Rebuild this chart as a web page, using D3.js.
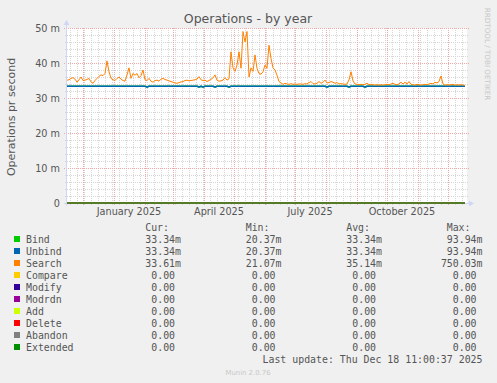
<!DOCTYPE html>
<html>
<head>
<meta charset="utf-8">
<script src="https://cdn.jsdelivr.net/npm/d3@7"></script>
<style>
  body { margin: 0; background: #f0f0f0; }
  svg { display: block; font-family: "DejaVu Sans", sans-serif; }
  .mono { font-family: "DejaVu Sans Mono", monospace; font-size: 9.9px; fill: #555; }
</style>
</head>
<body>
<svg id="chart" width="497" height="383"></svg>
<script>
// samples every 2 days, first one on 15 Nov 2024
var startDay = new Date(Date.UTC(2024, 10, 15))
var endDay = new Date(Date.UTC(2025, 11, 20))

// Search, in milli-ops per second
var search = [
  35.1,35.2,35.6,35.8,35.4,34.5,35.2,36.0,35.0,35.1,35.3,35.6,34.6,34.2,35.0,35.6,36.2,36.6,36.4,37.0,
  40.6,37.5,35.6,35.2,35.0,35.6,36.0,35.4,35.0,34.8,36.6,38.6,35.6,37.0,36.5,37.0,35.8,36.4,38.0,35.2,
  35.0,35.6,34.8,34.5,35.0,35.1,34.8,35.4,35.6,35.3,35.1,34.9,34.7,34.5,34.3,34.2,34.4,34.6,34.7,35.0,
  35.1,34.9,35.0,35.1,35.2,35.4,36.1,35.2,35.0,35.1,34.7,35.0,35.3,35.8,36.6,35.1,34.8,34.9,35.1,35.8,
  35.1,35.5,43.2,38.6,37.6,39.4,43.2,38.5,49.0,46.0,49.0,36.0,38.6,37.6,42.3,38.5,37.0,36.8,37.5,39.4,
  38.5,45.1,41.3,38.6,38.0,36.5,34.7,34.3,33.9,34.2,34.0,33.9,34.1,33.9,34.0,33.9,34.0,34.0,33.9,34.1,
  34.0,34.4,34.7,34.1,34.0,34.2,34.7,34.2,34.5,35.1,34.3,34.4,34.7,34.5,34.2,34.4,34.0,34.1,34.0,33.9,
  34.0,35.2,37.5,34.9,34.0,33.9,33.8,33.9,33.8,33.9,34.2,33.8,33.9,33.8,33.7,33.8,33.7,33.8,33.7,33.8,
  33.9,33.8,34.0,34.2,33.9,33.8,34.0,34.5,34.0,34.5,34.0,34.7,33.9,33.8,33.7,33.9,33.8,33.7,33.8,33.9,
  33.8,34.0,34.2,34.0,34.5,34.3,34.7,36.3,34.0,33.7,33.8,33.7,33.8,33.9,33.7,33.8,33.7,33.8,33.7,33.6
]

var bind = [
  33.34,33.34,33.34,33.34,33.34,33.34,33.34,33.34,33.34,33.34,33.34,33.34,33.34,33.34,33.34,33.34,33.34,33.34,33.34,33.34,
  33.34,33.34,33.34,33.34,33.34,33.34,33.34,33.34,33.34,33.34,33.34,33.34,33.34,33.34,33.34,33.34,33.34,33.34,33.34,33.34,
  33.15,33.34,33.34,33.34,33.34,33.34,33.34,33.34,33.34,33.34,33.34,33.34,33.34,33.34,33.34,33.34,33.34,33.34,33.34,33.34,
  33.34,33.34,33.34,33.34,33.34,33.34,33.15,33.34,33.15,33.34,33.34,33.34,33.34,33.34,33.15,33.34,33.34,33.34,33.34,33.34,
  33.34,33.15,33.34,33.34,33.34,33.34,33.34,33.34,33.34,33.34,33.34,33.34,33.34,33.34,33.34,33.34,33.34,33.34,33.34,33.34,
  33.34,33.34,33.34,33.34,33.34,33.34,33.34,33.34,33.34,33.34,33.34,33.34,33.34,33.34,33.34,33.34,33.34,33.34,33.34,33.34,
  33.34,33.34,33.34,33.34,33.34,33.34,33.34,33.34,33.34,33.34,33.15,33.34,33.34,33.34,33.34,33.34,33.34,33.34,33.34,33.34,
  33.34,33.15,33.34,33.34,33.34,33.34,33.34,33.34,33.34,33.15,33.34,33.34,33.34,33.34,33.34,33.34,33.34,33.34,33.34,33.34,
  33.34,33.34,33.34,33.34,33.34,33.34,33.34,33.34,33.34,33.34,33.34,33.34,33.34,33.34,33.34,33.34,33.34,33.34,33.34,33.34,
  33.34,33.34,33.34,33.34,33.34,33.34,33.34,33.34,33.34,33.34,33.34,33.34,33.34,33.34,33.34,33.34,33.34,33.34,33.34,33.34
]

var unbind = [
  33.34,33.34,33.34,33.34,33.34,33.34,33.34,33.34,33.34,33.34,33.34,33.34,33.34,33.34,33.34,33.34,33.34,33.34,33.34,33.34,
  33.34,33.34,33.34,33.34,33.34,33.34,33.34,33.34,33.34,33.34,33.34,33.34,33.34,33.34,33.34,33.34,33.34,33.34,33.34,33.34,
  33.15,33.34,33.34,33.34,33.34,33.34,33.34,33.34,33.34,33.34,33.34,33.34,33.34,33.34,33.34,33.34,33.34,33.34,33.34,33.34,
  33.34,33.34,33.34,33.34,33.34,33.34,33.15,33.34,33.15,33.34,33.34,33.34,33.34,33.34,33.15,33.34,33.34,33.34,33.34,33.34,
  33.34,33.15,33.34,33.34,33.34,33.34,33.34,33.34,33.34,33.34,33.34,33.34,33.34,33.34,33.34,33.34,33.34,33.34,33.34,33.34,
  33.34,33.34,33.34,33.34,33.34,33.34,33.34,33.34,33.34,33.34,33.34,33.34,33.34,33.34,33.34,33.34,33.34,33.34,33.34,33.34,
  33.34,33.34,33.34,33.34,33.34,33.34,33.34,33.34,33.34,33.34,33.15,33.34,33.34,33.34,33.34,33.34,33.34,33.34,33.34,33.34,
  33.34,33.15,33.34,33.34,33.34,33.34,33.34,33.34,33.34,33.15,33.34,33.34,33.34,33.34,33.34,33.34,33.34,33.34,33.34,33.34,
  33.34,33.34,33.34,33.34,33.34,33.34,33.34,33.34,33.34,33.34,33.34,33.34,33.34,33.34,33.34,33.34,33.34,33.34,33.34,33.34,
  33.34,33.34,33.34,33.34,33.34,33.34,33.34,33.34,33.34,33.34,33.34,33.34,33.34,33.34,33.34,33.34,33.34,33.34,33.34,33.34
]

// the other operations stayed at zero all year
var idleValue = 0

var names = ["Bind", "Unbind", "Search", "Compare", "Modify", "Modrdn", "Add", "Delete", "Abandon", "Extended"]
var colors = ["#00cc00", "#0066b3", "#ff8000", "#ffcc00", "#330099", "#990099", "#ccff00", "#ff0000", "#808080", "#008f00"]
var curVals = ["33.34m", "33.34m", "33.61m", "0.00", "0.00", "0.00", "0.00", "0.00", "0.00", "0.00"]
var minVals = ["20.37m", "20.37m", "21.07m", "0.00", "0.00", "0.00", "0.00", "0.00", "0.00", "0.00"]
var avgVals = ["33.34m", "33.34m", "35.14m", "0.00", "0.00", "0.00", "0.00", "0.00", "0.00", "0.00"]
var maxVals = ["93.94m", "93.94m", "750.03m", "0.00", "0.00", "0.00", "0.00", "0.00", "0.00", "0.00"]

var yTicks = [0, 10, 20, 30, 40, 50]
var yTickLabels = ["0", "10 m", "20 m", "30 m", "40 m", "50 m"]
var xTickLabels = ["January 2025", "April 2025", "July 2025", "October 2025"]

var svg = d3.select("#chart")
// plot box (window.top is taken, hence the prefix)
var plotLeft = 67, plotRight = 467, plotTop = 28, plotBottom = 203
var fontColor = "#555"
var minorGrid = "#d6d6d6", majorGrid = "#f0a8a8"

var x = d3.scaleUtc().domain([startDay, endDay]).range([plotLeft, plotRight])
var y = d3.scaleLinear().domain([0, 50]).range([plotBottom, plotTop])

var dates = search.map(function (d, i) { return d3.utcDay.offset(startDay, 2 * i) })

// background canvas
svg.append("rect").attr("x", plotLeft).attr("y", plotTop)
  .attr("width", plotRight - plotLeft).attr("height", plotBottom - plotTop).attr("fill", "#fff")

// grid
var grid = svg.append("g").attr("shape-rendering", "crispEdges")
d3.range(0, 51, 2).filter(function (v) { return v % 10 != 0 }).forEach(function (v) {
  grid.append("line").attr("x1", plotLeft - 2).attr("x2", plotRight + 1)
    .attr("y1", Math.round(y(v)) + 0.5).attr("y2", Math.round(y(v)) + 0.5)
    .attr("stroke", minorGrid).attr("stroke-dasharray", "1,1")
})
d3.utcMonday.range(startDay, endDay).forEach(function (d) {
  grid.append("line").attr("y1", plotTop).attr("y2", plotBottom + 2)
    .attr("x1", Math.round(x(d)) + 0.5).attr("x2", Math.round(x(d)) + 0.5)
    .attr("stroke", minorGrid).attr("stroke-dasharray", "1,1")
})
yTicks.slice(1).forEach(function (v) {
  grid.append("line").attr("x1", plotLeft - 3).attr("x2", plotRight + 3)
    .attr("y1", Math.round(y(v)) + 0.5).attr("y2", Math.round(y(v)) + 0.5)
    .attr("stroke", majorGrid).attr("stroke-dasharray", "1,1")
})
d3.utcMonth.range(startDay, endDay).forEach(function (d) {
  grid.append("line").attr("y1", plotTop).attr("y2", plotBottom + 3)
    .attr("x1", Math.round(x(d)) + 0.5).attr("x2", Math.round(x(d)) + 0.5)
    .attr("stroke", majorGrid).attr("stroke-dasharray", "1,1")
})

// axes with arrows
var axisColor = "#cfd6f8"
svg.append("line").attr("x1", plotLeft - 0.5).attr("x2", plotLeft - 0.5).attr("y1", plotBottom + 3).attr("y2", plotTop - 6)
  .attr("stroke", axisColor)
svg.append("line").attr("x1", plotLeft - 3).attr("x2", plotRight + 4).attr("y1", plotBottom + 0.5).attr("y2", plotBottom + 0.5)
  .attr("stroke", axisColor)
svg.append("path").attr("d", "M" + (plotLeft - 3.5) + "," + (plotTop - 3) + "L" + (plotLeft + 2.5) + "," + (plotTop - 3) + "L" + (plotLeft - 0.5) + "," + (plotTop - 8) + "Z")
  .attr("fill", axisColor)
svg.append("path").attr("d", "M" + (plotRight + 2) + "," + (plotBottom - 2.5) + "L" + (plotRight + 2) + "," + (plotBottom + 3.5) + "L" + (plotRight + 7) + "," + (plotBottom + 0.5) + "Z")
  .attr("fill", axisColor)

// y tick labels
svg.append("g").selectAll("text").data(yTicks).enter().append("text")
  .attr("x", 60).attr("y", function (d) { return y(d) + 3.5 })
  .attr("text-anchor", "end").attr("font-size", "9.7px").attr("fill", fontColor)
  .text(function (d, i) { return yTickLabels[i] })

// x labels sit in the middle of their month
var parseMonth = d3.utcParse("%B %Y")
svg.append("g").selectAll("text").data(xTickLabels).enter().append("text")
  .attr("x", function (d) { return x(d3.utcDay.offset(parseMonth(d), 15)) })
  .attr("y", 215)
  .attr("text-anchor", "middle").attr("font-size", "9.7px").attr("fill", fontColor)
  .text(function (d) { return d })

// lines
svg.append("clipPath").attr("id", "clip").append("rect")
  .attr("x", plotLeft).attr("y", plotTop - 2).attr("width", plotRight - plotLeft).attr("height", plotBottom - plotTop + 4)
var plot = svg.append("g").attr("clip-path", "url(#clip)")

var line = d3.line()
  .x(function (d, i) { return x(dates[i]) })
  .y(function (d) { return y(d) })

var seriesValues = [bind, unbind, search]
names.forEach(function (name, k) {
  var values = k < 3 ? seriesValues[k] : dates.map(function () { return idleValue })
  plot.append("path").datum(values)
    .attr("d", line)
    .attr("fill", "none")
    .attr("stroke", colors[k])
    .attr("stroke-width", k < 2 ? 1.5 : 1)
    .attr("stroke-linejoin", "round")
})

// title and side texts
svg.append("text").attr("x", 248).attr("y", 23).attr("text-anchor", "middle")
  .attr("font-size", "12.5px").attr("fill", fontColor).text("Operations - by year")
svg.append("text").attr("transform", "translate(15,117) rotate(-90)").attr("text-anchor", "middle")
  .attr("font-size", "11px").attr("fill", fontColor).text("Operations pr second")
svg.append("text").attr("transform", "translate(485,54) rotate(90)").attr("text-anchor", "middle")
  .attr("font-size", "7.2px").attr("fill", "#c8c8c8").text("RRDTOOL / TOBI OETIKER")

// legend
var legend = svg.append("g").attr("class", "mono")
var colEnds = [181, 281.5, 382, 482.5]
var charW = 5.96
;["Cur:", "Min:", "Avg:", "Max:"].forEach(function (h, c) {
  legend.append("text").attr("x", colEnds[c] - 6 * charW).attr("y", 231).text(h)
})
var columns = [curVals, minVals, avgVals, maxVals]
names.forEach(function (name, k) {
  var base = 243 + 12 * k
  legend.append("rect").attr("x", 14).attr("y", base - 7).attr("width", 6).attr("height", 6)
    .attr("fill", colors[k])
  legend.append("text").attr("x", 26).attr("y", base).text(name)
  columns.forEach(function (col, c) {
    var v = col[k]
    var shift = /m$/.test(v) ? 0 : charW
    legend.append("text").attr("x", colEnds[c] - shift).attr("y", base)
      .attr("text-anchor", "end").text(v)
  })
})
legend.append("text").attr("x", 482.5).attr("y", 363).attr("text-anchor", "end")
  .text("Last update: Thu Dec 18 11:00:37 2025")

svg.append("text").attr("x", 248).attr("y", 375).attr("text-anchor", "middle")
  .attr("font-size", "6.9px").attr("fill", "#c8c8c8").text("Munin 2.0.76")
</script>
</body>
</html>
